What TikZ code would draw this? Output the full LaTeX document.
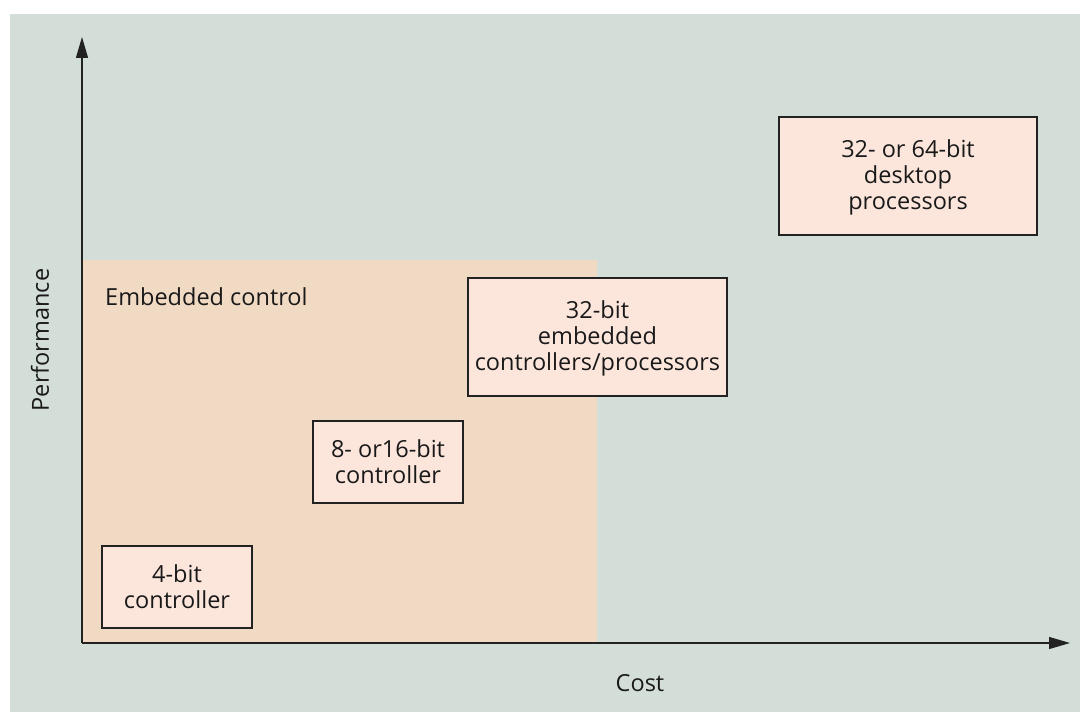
\documentclass[tikz,border=0pt]{standalone}
\usepackage{fontspec}
\setmainfont{Open Sans}
\usetikzlibrary{arrows.meta}
\definecolor{bgc}{HTML}{D4DED9}
\definecolor{embc}{HTML}{F1DAC4}
\definecolor{boxc}{HTML}{FCE6DC}
\definecolor{linec}{HTML}{222222}
\tikzset{
  procbox/.style={draw=linec, line width=1.6pt, fill=boxc, align=center, inner sep=0pt},
  lbl/.style={font=\fontsize{23.5}{26}\selectfont, text=black!90},
  axis/.style={draw=linec, line width=1.3pt, -{Triangle[length=21pt,width=12pt]}}
}
\begin{document}
\begin{tikzpicture}[x=1pt,y=-1pt]
\useasboundingbox (0,0) rectangle (1087,719);
\fill[white] (0,0) rectangle (1087,719);
\fill[bgc] (10,14) rectangle (1080,712);
% embedded region
\fill[embc] (82,260) rectangle (597,643);
\node[lbl, anchor=west, inner sep=0pt] (emb) at (105,297) {Embedded control};
% boxes
\draw[procbox] (102,546) rectangle (252,628);
\node[lbl, align=center] (b4) at (177,587) {4-bit\\controller};
\draw[procbox] (313,421) rectangle (463,503);
\node[lbl, align=center] (b8) at (388,462) {8- or16-bit\\controller};
\draw[procbox] (468,278) rectangle (727,396);
\node[lbl, align=center] (b32) at (597.5,338) {32-bit\\embedded\\controllers/processors};
\draw[procbox] (779,117) rectangle (1037,235);
\node[lbl, align=center] (b64) at (908,177) {32- or 64-bit\\desktop\\processors};
% axes
\coordinate (o) at (82,643);
\coordinate (ytip) at (82,37);
\coordinate (xtip) at (1070,643);
\draw[axis] (o) -- (ytip);
\draw[axis] (o) -- (xtip);
\node[lbl, rotate=90] (perf) at (40,340) {Performance};
\node[lbl] (cost) at (640,683) {Cost};
\end{tikzpicture}
\end{document}
